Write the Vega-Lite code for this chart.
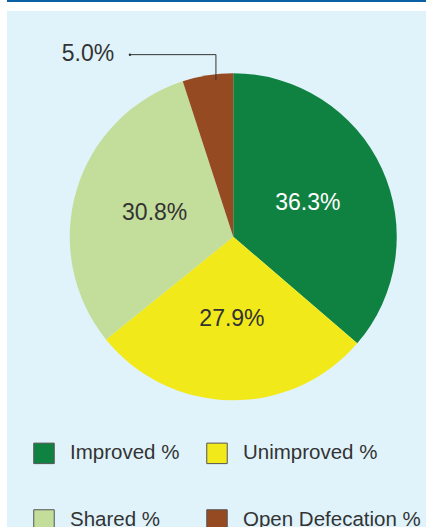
{
  "$schema": "https://vega.github.io/schema/vega-lite/v6.json",
  "padding": {"left": 7, "top": 0, "right": 0, "bottom": 0},
  "background": "white",
  "spacing": 9,
  "config": {"view": {"stroke": null}, "font": "Liberation Sans"},
  "datasets": {
    "sanitation": [
      {"category": "Improved %", "value": 0.363, "ord": 1},
      {"category": "Unimproved %", "value": 0.279, "ord": 2},
      {"category": "Shared %", "value": 0.308, "ord": 3},
      {"category": "Open Defecation %", "value": 0.05, "ord": 4}
    ]
  },
  "vconcat": [
    {
      "width": 419,
      "height": 2,
      "view": {"fill": "#0b5fa5", "stroke": null},
      "data": {"values": [{}]},
      "mark": {"type": "rect", "color": "#0b5fa5"},
      "encoding": {}
    },
    {
      "width": 419,
      "height": 516,
      "view": {"fill": "#e0f3fb", "stroke": null},
      "data": {"name": "sanitation"},
      "layer": [
        {
          "mark": {"type": "arc", "radius": 163.5},
          "encoding": {
            "theta": {"field": "value", "type": "quantitative", "stack": true},
            "order": {"field": "ord", "type": "quantitative"},
            "x": {"datum": 0, "type": "quantitative", "scale": {"domain": [-1.384, 1.179], "nice": false, "zero": false}, "axis": null},
            "y": {"datum": 0, "type": "quantitative", "scale": {"domain": [-1.775, 1.381], "nice": false, "zero": false}, "axis": null},
            "color": {
              "field": "category",
              "type": "nominal",
              "scale": {
                "domain": ["Improved %", "Shared %", "Unimproved %", "Open Defecation %"],
                "range": ["#0f8241", "#c3dd9b", "#f2e91a", "#964a21"]
              },
              "legend": {
                "orient": "none",
                "legendX": 26,
                "legendY": 442,
                "columns": 2,
                "columnPadding": 24,
                "rowPadding": 41,
                "symbolType": "square",
                "symbolSize": 420,
                "symbolStrokeColor": "#555555",
                "symbolStrokeWidth": 1,
                "labelFontSize": 20.5,
                "labelColor": "#333333",
                "labelOffset": 15,
                "labelLimit": 300,
                "title": null,
                "padding": 0
              }
            }
          }
        },
        {
          "mark": {"type": "text", "radius": 82, "fontSize": 23, "align": "center", "baseline": "middle"},
          "encoding": {
            "theta": {"field": "value", "type": "quantitative", "stack": true},
            "order": {"field": "ord", "type": "quantitative"},
            "x": {"datum": 0, "type": "quantitative"},
            "y": {"datum": 0, "type": "quantitative"},
            "text": {
              "condition": {"test": "datum.category === 'Open Defecation %'", "value": ""},
              "field": "value",
              "type": "quantitative",
              "format": ".1%"
            },
            "color": {
              "condition": {"test": "datum.category === 'Improved %'", "value": "#ffffff"},
              "value": "#333333"
            }
          }
        },
        {
          "transform": [{"filter": "datum.category === 'Open Defecation %'"}],
          "mark": {"type": "text", "fontSize": 23, "align": "center", "baseline": "middle", "color": "#333333"},
          "encoding": {
            "x": {"datum": -0.889, "type": "quantitative"},
            "y": {"datum": 1.12, "type": "quantitative"},
            "text": {"field": "value", "type": "quantitative", "format": ".1%"}
          }
        },
        {
          "data": {"values": [{}]},
          "mark": {"type": "rule", "color": "#333333", "strokeWidth": 1},
          "encoding": {
            "x": {"datum": -0.632, "type": "quantitative"},
            "x2": {"datum": -0.106},
            "y": {"datum": 1.114, "type": "quantitative"}
          }
        },
        {
          "data": {"values": [{}]},
          "mark": {"type": "rule", "color": "#333333", "strokeWidth": 1},
          "encoding": {
            "x": {"datum": -0.106, "type": "quantitative"},
            "y": {"datum": 1.114, "type": "quantitative"},
            "y2": {"datum": 0.959}
          }
        },
        {
          "data": {"values": [{}]},
          "mark": {"type": "point", "filled": true, "size": 6, "color": "#333333", "opacity": 1},
          "encoding": {
            "x": {"datum": -0.632, "type": "quantitative"},
            "y": {"datum": 1.114, "type": "quantitative"}
          }
        }
      ]
    }
  ]
}
